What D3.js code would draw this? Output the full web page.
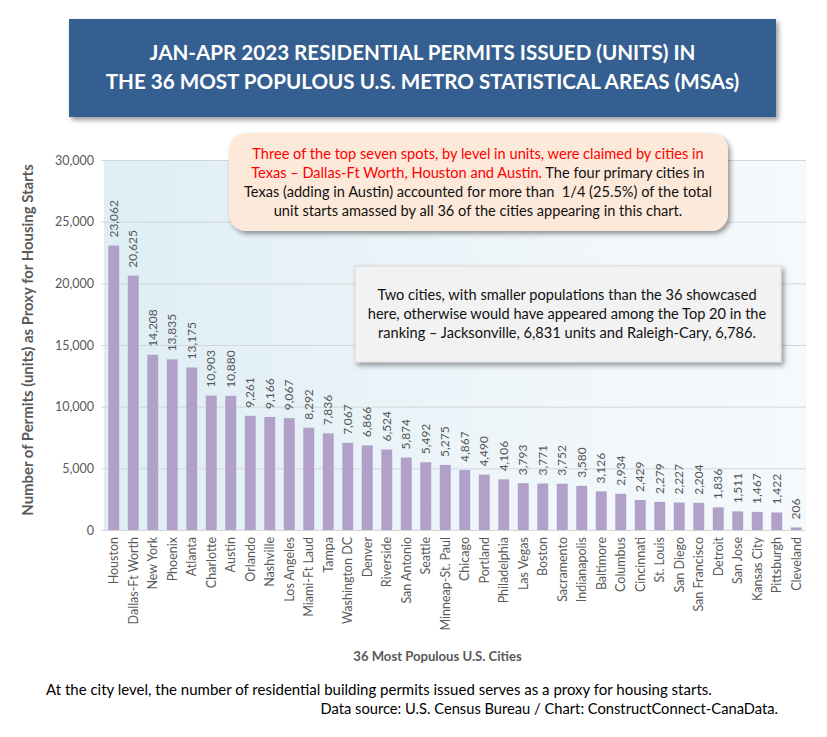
<!DOCTYPE html>
<html><head><meta charset="utf-8">
<script src="https://cdn.jsdelivr.net/npm/d3@7/dist/d3.min.js"></script>
<style>html,body{margin:0;padding:0;background:#fff}svg{display:block;font-family:Lato,Carlito,sans-serif}</style>
</head><body><svg id="c" width="827" height="737"></svg>
<script>
const cities=["Houston","Dallas-Ft Worth","New York","Phoenix","Atlanta","Charlotte","Austin","Orlando","Nashville","Los Angeles","Miami-Ft Laud","Tampa","Washington DC","Denver","Riverside","San Antonio","Seattle","Minneap-St. Paul","Chicago","Portland","Philadelphia","Las Vegas","Boston","Sacramento","Indianapolis","Baltimore","Columbus","Cincinnati","St. Louis","San Diego","San Francisco","Detroit","San Jose","Kansas City","Pittsburgh","Cleveland"];
const permits=[23062,20625,14208,13835,13175,10903,10880,9261,9166,9067,8292,7836,7067,6866,6524,5874,5492,5275,4867,4490,4106,3793,3771,3752,3580,3126,2934,2429,2279,2227,2204,1836,1511,1467,1422,206];
const yTicks=[0,5000,10000,15000,20000,25000,30000];
const titleLines=["JAN-APR 2023 RESIDENTIAL PERMITS ISSUED (UNITS) IN","THE 36 MOST POPULOUS U.S. METRO STATISTICAL AREAS (MSAs)"];
const note1=[[["Three of the top seven spots, by level in units, were claimed by cities in","#ff0000"]],
 [["Texas – Dallas-Ft Worth, Houston and Austin. ","#ff0000"],["The four primary cities in","#111"]],
 [["Texas (adding in Austin) accounted for more than  1/4 (25.5%) of the total","#111"]],
 [["unit starts amassed by all 36 of the cities appearing in this chart.","#111"]]];
const note2=["Two cities, with smaller populations than the 36 showcased","here, otherwise would have appeared among the Top 20 in the","ranking – Jacksonville, 6,831 units and Raleigh-Cary, 6,786."];

const svg=d3.select("#c");
const defs=svg.append("defs");
const g=defs.append("linearGradient").attr("id","bg");
g.append("stop").attr("offset","0").attr("stop-color","#deeef5");
g.append("stop").attr("offset","0.6").attr("stop-color","#eff6fa");
g.append("stop").attr("offset","1").attr("stop-color","#f5f9fc");
const sh=defs.append("filter").attr("id","sh").attr("x","-5%").attr("y","-10%").attr("width","112%").attr("height","125%");
sh.append("feDropShadow").attr("dx",2.5).attr("dy",3).attr("stdDeviation",2.5).attr("flood-color","#000").attr("flood-opacity",0.4);

const L=104,R=806,T=160,B=530;
const x=d3.scaleBand().domain(cities).range([L,R]).paddingInner(0.44).paddingOuter(0.22);
const y=d3.scaleLinear().domain([0,30000]).range([B,T]);

svg.append("rect").attr("x",L).attr("y",T).attr("width",R-L).attr("height",B-T).attr("fill","url(#bg)");
svg.append("g").selectAll("line").data(yTicks).join("line")
 .attr("x1",L-3).attr("x2",R).attr("y1",d=>y(d)+.5).attr("y2",d=>y(d)+.5)
 .attr("stroke","#d4d7d9").attr("stroke-width",1);

const yAxis=d3.axisLeft(y).tickValues(yTicks).tickFormat(d3.format(",")).tickSize(0).tickPadding(10);
const ya=svg.append("g").attr("transform",`translate(${L},0)`).call(yAxis);
ya.select(".domain").remove();
ya.selectAll("text").attr("font-family","Lato,sans-serif").attr("font-size",12.5).attr("fill","#595959");

svg.append("g").selectAll("rect").data(permits).join("rect")
 .attr("x",(d,i)=>x(cities[i])).attr("width",x.bandwidth())
 .attr("y",d=>y(d)).attr("height",d=>B-y(d)).attr("fill","#b1a0c7");

svg.append("g").selectAll("text").data(permits).join("text")
 .attr("transform",(d,i)=>`translate(${x(cities[i])+x.bandwidth()/2+4},${y(d)-8}) rotate(-90)`)
 .attr("font-size",12).attr("fill","#555").text(d3.format(","));

const xAxis=d3.axisBottom(x).tickSize(0);
const xa=svg.append("g").attr("transform",`translate(0,${B})`).call(xAxis);
xa.select(".domain").remove();
xa.selectAll("text").attr("font-family","Lato,sans-serif").attr("font-size",12.5).attr("fill","#595959")
 .attr("text-anchor","end").attr("transform","translate(4.5,7) rotate(-90)").attr("x",0).attr("y",0).attr("dy",0);

svg.append("text").attr("transform","translate(33,340) rotate(-90)").attr("text-anchor","middle")
 .attr("font-size",14.9).attr("font-weight",700).attr("fill","#595959").text("Number of Permits (units) as Proxy for Housing Starts");
svg.append("text").attr("x",437.5).attr("y",661).attr("text-anchor","middle")
 .attr("font-size",13.1).attr("font-weight",700).attr("fill","#595959").text("36 Most Populous U.S. Cities");

svg.append("rect").attr("x",69).attr("y",19).attr("width",707).attr("height",98).attr("fill","#365f91").attr("filter","url(#sh)");
svg.append("g").selectAll("text").data(titleLines).join("text").attr("x",422.5).attr("y",(d,i)=>60+i*29)
 .attr("text-anchor","middle").attr("font-size",20.6).attr("font-weight",700).attr("fill","#fff").text(d=>d);

svg.append("rect").attr("x",229).attr("y",133).attr("width",499).attr("height",98).attr("rx",17).attr("fill","#fde9d9").attr("filter","url(#sh)");
const t1=svg.append("g").selectAll("text").data(note1).join("text").attr("x",478).attr("y",(d,i)=>159+i*19)
 .attr("text-anchor","middle").attr("font-size",14.6);
t1.selectAll("tspan").data(d=>d).join("tspan").attr("fill",d=>d[1]).attr("xml:space","preserve").text(d=>d[0]);

svg.append("rect").attr("x",355).attr("y",266).attr("width",426).attr("height",96).attr("fill","#f2f2f2").attr("stroke","#d9d9d9").attr("filter","url(#sh)");
svg.append("g").selectAll("text").data(note2).join("text").attr("x",567).attr("y",(d,i)=>300+i*19)
 .attr("text-anchor","middle").attr("font-size",14.6).attr("fill","#111").text(d=>d);

svg.append("text").attr("x",46).attr("y",695).attr("font-size",15).attr("fill","#000").text("At the city level, the number of residential building permits issued serves as a proxy for housing starts.");
svg.append("text").attr("x",778).attr("y",714).attr("text-anchor","end").attr("font-size",14.7).attr("fill","#000").text("Data source: U.S. Census Bureau / Chart: ConstructConnect-CanaData.");
</script></body></html>
